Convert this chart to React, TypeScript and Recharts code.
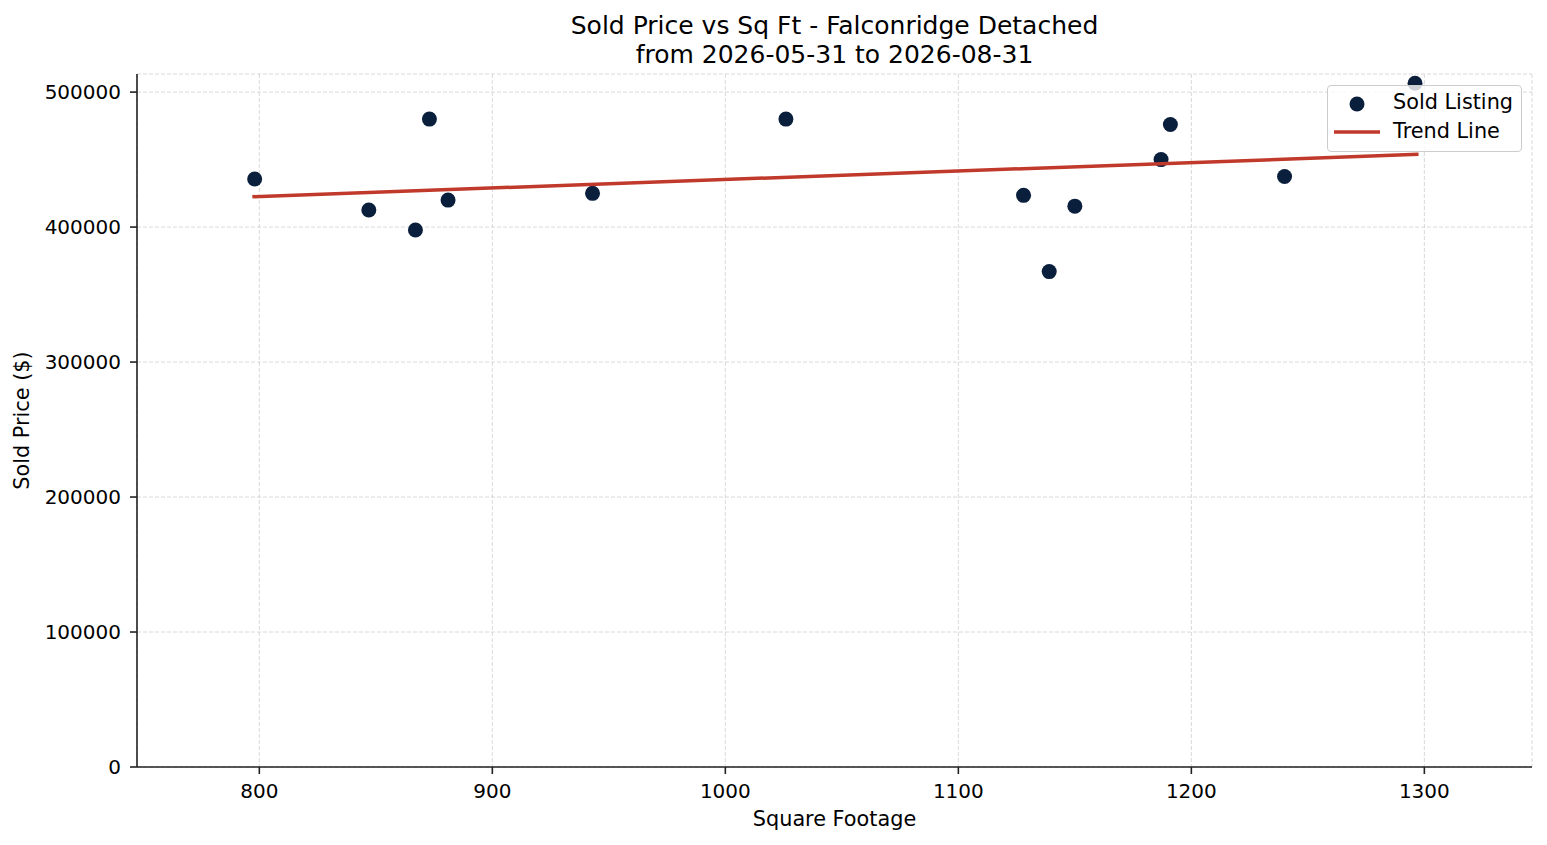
import React from 'react';
import {
  ScatterChart,
  Scatter,
  XAxis,
  YAxis,
  CartesianGrid,
  Legend
} from 'recharts';

// Values
const squareFeet = [798, 847, 867, 873, 881, 943, 1026, 1128, 1139, 1150, 1187, 1191, 1240, 1296];
const soldPrices = [435600, 412600, 397800, 480000, 420000, 425000, 480000, 423500, 367000, 415500, 450000, 476000, 437500, 506500];
const trendSqFt = [797, 1297.5];
const trendPrices = [422500, 453900];
const xTicks = [800, 900, 1000, 1100, 1200, 1300];
const yTicks = [0, 100000, 200000, 300000, 400000, 500000];

const FONT = '"DejaVu Sans", sans-serif';
const FS = 20.8;
const TICK_FS = 20;
const DOT = '#0a1f3c';
const TREND = '#c0392b';
const AXIS = '#222';

const listings = squareFeet.map((x, i) => ({ x, y: soldPrices[i] }));
const trend = trendSqFt.map((x, i) => ({ x, y: trendPrices[i] }));

const YLabel = (props: any) => {
  const vb = props.viewBox || { x: 0, y: 74, width: 137, height: 693 };
  const cx = vb.x + 29;
  const cy = vb.y + vb.height / 2;
  return (
    <text x={cx} y={cy} transform={`rotate(-90, ${cx}, ${cy})`} textAnchor="middle" fontSize={FS} fill="#000" fontFamily={FONT}>
      Sold Price ($)
    </text>
  );
};

const LegendBox = () => (
  <div
    style={{
      position: 'relative',
      width: 195,
      height: 67,
      boxSizing: 'border-box',
      border: '1px solid #cccccc',
      borderRadius: 4,
      background: 'rgba(255,255,255,0.8)',
      fontFamily: FONT,
      fontSize: FS,
      color: '#000'
    }}
  >
    <svg width={195} height={67} style={{ position: 'absolute', left: -1, top: -1 }}>
      <circle cx={30} cy={19} r={7.5} fill={DOT} />
      <line x1={7} x2={53} y1={47} y2={47} stroke={TREND} strokeWidth={3.5} />
    </svg>
    <span style={{ position: 'absolute', left: 65, top: 3, lineHeight: '27px', whiteSpace: 'nowrap' }}>Sold Listing</span>
    <span style={{ position: 'absolute', left: 65, top: 32, lineHeight: '27px', whiteSpace: 'nowrap' }}>Trend Line</span>
  </div>
);

export default function App() {
  return (
    <div style={{ position: 'absolute', left: 0, top: 0, width: 1547, height: 845, background: '#fff', fontFamily: FONT }}>
      <div
        style={{
          position: 'absolute',
          left: 137,
          width: 1395,
          top: 10.5,
          textAlign: 'center',
          fontSize: 25,
          lineHeight: '29px',
          color: '#000'
        }}
      >
        Sold Price vs Sq Ft - Falconridge Detached
        <br />
        from 2026-05-31 to 2026-08-31
      </div>
      <ScatterChart width={1547} height={845} margin={{ top: 74, right: 15, bottom: 0, left: 0 }}>
        <CartesianGrid stroke="#cfcfcf" strokeDasharray="4 2" strokeWidth={0.8} />
        <XAxis
          type="number"
          dataKey="x"
          domain={[747.5, 1346.2]}
          allowDataOverflow
          ticks={xTicks}
          height={78}
          stroke={AXIS}
          strokeWidth={1.6}
          tickSize={7}
          tickMargin={10}
          tick={{ fill: '#000', fontSize: TICK_FS, fontFamily: FONT }}
          label={{ value: 'Square Footage', position: 'insideBottom', offset: 19, fontSize: FS, fill: '#000', fontFamily: FONT }}
        />
        <YAxis
          type="number"
          dataKey="y"
          domain={[0, 513400]}
          allowDataOverflow
          ticks={yTicks}
          width={137}
          stroke={AXIS}
          strokeWidth={1.6}
          tickSize={7}
          tickMargin={9}
          tick={{ fill: '#000', fontSize: TICK_FS, fontFamily: FONT }}
          label={{ content: YLabel }}
        />
        <Legend
          layout="horizontal"
          verticalAlign="middle"
          align="center"
          content={LegendBox}
          wrapperStyle={{ left: 1327, top: 85, width: 195, height: 67 }}
        />
        <Scatter
          name="Sold Listing"
          data={listings}
          isAnimationActive={false}
          shape={(p: any) => <circle cx={p.cx} cy={p.cy} r={7.5} fill={DOT} />}
        />
        <Scatter
          name="Trend Line"
          data={trend}
          isAnimationActive={false}
          line={{ stroke: TREND, strokeWidth: 3.5 }}
          shape={() => <g />}
        />
      </ScatterChart>
    </div>
  );
}
